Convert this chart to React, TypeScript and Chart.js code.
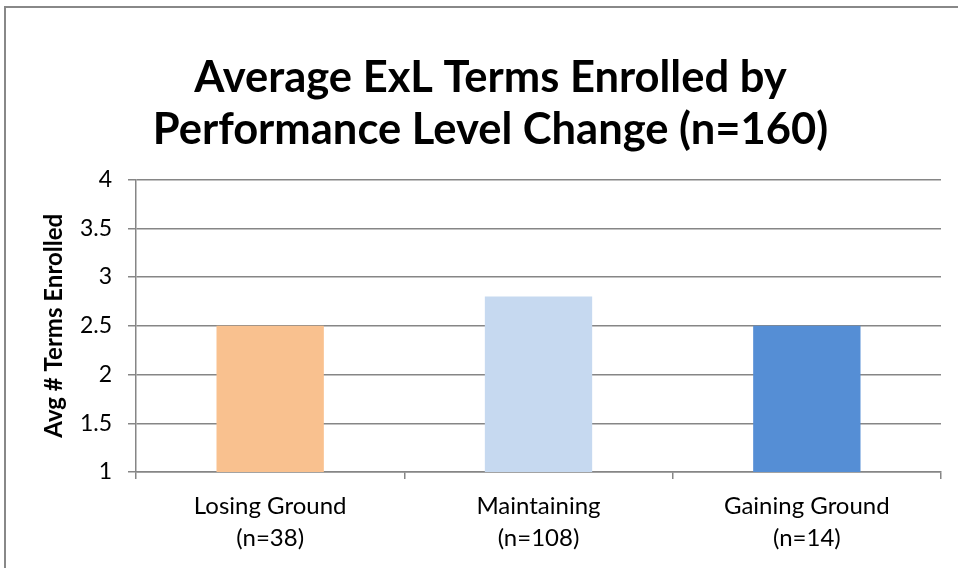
import React, { useEffect, useRef } from "react";
import { Chart, registerables } from "chart.js";

Chart.register(...registerables);

const categories: string[][] = [
  ["Losing Ground", "(n=38)"],
  ["Maintaining", "(n=108)"],
  ["Gaining Ground", "(n=14)"],
];
const values: number[] = [2.5, 2.8, 2.5];
const barColors: string[] = ["#F9C18F", "#C6D9F0", "#558ED5"];
const titleLines: string[] = ["Average ExL Terms Enrolled by", "Performance Level Change (n=160)"];
const yAxisTitle = "Avg # Terms Enrolled";
const yMin = 1;
const yMax = 4;
const yStep = 0.5;

const FONT = "Lato, 'Open Sans', sans-serif";

export default function App() {
  const ref = useRef<HTMLCanvasElement | null>(null);
  useEffect(() => {
    if (!ref.current) return;
    const chart = new Chart(ref.current, {
      type: "bar",
      data: {
        labels: categories,
        datasets: [
          {
            data: values,
            backgroundColor: barColors,
            borderWidth: 0,
            categoryPercentage: 1,
            barPercentage: 0.4,
          },
        ],
      },
      options: {
        animation: false,
        responsive: false,
        layout: { padding: { left: 40, right: 17, top: 0, bottom: 0 } },
        plugins: {
          legend: { display: false },
          tooltip: { enabled: false },
          title: {
            display: true,
            text: titleLines,
            color: "#000",
            font: { family: FONT, size: 43.5, weight: "bold", lineHeight: 1.19 },
            padding: { top: 52, bottom: 24 },
          },
        },
        scales: {
          x: {
            afterFit: (s: any) => {
              s.height = 96;
            },
            grid: {
              offset: true,
              drawOnChartArea: false,
              drawTicks: true,
              tickLength: 7,
              color: "#868686",
              lineWidth: 1.5,
            },
            border: { color: "#868686", width: 1.5 },
            ticks: {
              color: "#000",
              font: { family: FONT, size: 24, lineHeight: 1.3 },
              padding: 12,
            },
          },
          y: {
            min: yMin,
            max: yMax,
            afterFit: (s: any) => {
              s.width = 96;
            },
            ticks: {
              stepSize: yStep,
              color: "#000",
              font: { family: FONT, size: 23 },
              padding: 16,
              callback: (v: any) => String(v),
            },
            grid: { color: "#868686", lineWidth: 1.5, tickLength: 8 },
            border: { color: "#868686", width: 1.5 },
            title: {
              display: true,
              text: yAxisTitle,
              color: "#000",
              font: { family: FONT, size: 24, weight: "bold" },
              padding: { top: 0, bottom: 0 },
            },
          },
        },
      },
    });
    return () => chart.destroy();
  }, []);
  return (
    <div
      style={{
        position: "absolute",
        left: 0,
        top: 0,
        width: 958,
        height: 568,
        background: "#fff",
        overflow: "hidden",
      }}
    >
      <div
        style={{
          position: "absolute",
          left: 4,
          top: 6,
          width: 980,
          height: 600,
          borderLeft: "2px solid #888",
          borderTop: "2px solid #888",
          boxSizing: "border-box",
        }}
      />
      <canvas ref={ref} width={958} height={568} style={{ position: "absolute", left: 0, top: 0 }} />
    </div>
  );
}
